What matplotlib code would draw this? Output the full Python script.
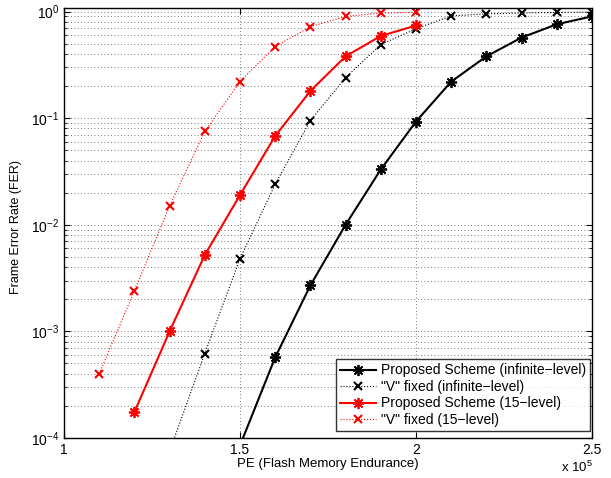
import numpy as np
import matplotlib
matplotlib.use('Agg')
import matplotlib.pyplot as plt
from matplotlib.ticker import LogLocator, NullFormatter

# PE values in units of 1e5
pe_inf = [1.5, 1.6, 1.7, 1.8, 1.9, 2.0, 2.1, 2.2, 2.3, 2.4, 2.5]
fer_prop_inf = [8.5e-5, 5.7e-4, 2.7e-3, 1.0e-2, 3.3e-2, 9.3e-2, 0.22, 0.38, 0.57, 0.76, 0.90]

pe_vinf = [1.3, 1.4, 1.5, 1.6, 1.7, 1.8, 1.9, 2.0, 2.1, 2.2, 2.3, 2.4, 2.5]
fer_v_inf = [7.5e-5, 6.2e-4, 4.8e-3, 2.4e-2, 9.5e-2, 0.24, 0.49, 0.69, 0.91, 0.95, 0.97, 0.98, 0.99]

pe_15 = [1.2, 1.3, 1.4, 1.5, 1.6, 1.7, 1.8, 1.9, 2.0]
fer_prop_15 = [1.75e-4, 1.0e-3, 5.2e-3, 1.9e-2, 6.8e-2, 0.18, 0.38, 0.59, 0.74]

pe_v15 = [1.1, 1.2, 1.3, 1.4, 1.5, 1.6, 1.7, 1.8, 1.9, 2.0]
fer_v_15 = [4.0e-4, 2.4e-3, 1.5e-2, 7.5e-2, 0.22, 0.47, 0.72, 0.90, 0.97, 0.98]

labels = ['Proposed Scheme (infinite\u2212level)', '"V" fixed (infinite\u2212level)',
          'Proposed Scheme (15\u2212level)', '"V" fixed (15\u2212level)']

plt.rcParams['font.family'] = ['Liberation Sans', 'DejaVu Sans']
plt.rcParams['mathtext.fontset'] = 'custom'
plt.rcParams['mathtext.rm'] = 'Liberation Sans'
plt.rcParams['mathtext.it'] = 'Liberation Sans'
plt.rcParams['font.size'] = 10

fig = plt.figure(figsize=(6.11, 4.78), dpi=100)
ax = fig.add_axes([0.1047, 0.0837, 0.8642, 0.8996])

ast = (8, 2, 0)
ax.plot(pe_inf, fer_prop_inf, color='k', lw=1.5, marker=ast, ms=8, mew=1.3, label=labels[0])
ax.plot(pe_vinf, fer_v_inf, color='k', lw=0.8, ls=':', marker='x', ms=6, mew=1.5, label=labels[1])
ax.plot(pe_15, fer_prop_15, color='r', lw=1.5, marker=ast, ms=8, mew=1.3, label=labels[2])
ax.plot(pe_v15, fer_v_15, color='r', lw=0.8, ls=':', marker='x', ms=6, mew=1.5, label=labels[3])

ax.set_yscale('log')
ax.set_xlim(1, 2.5)
ax.set_ylim(1e-4, 1.08)
ax.set_xticks([1, 1.5, 2, 2.5])
ax.set_xticklabels(['1', '1.5', '2', '2.5'])
ax.set_yticks([1e-4, 1e-3, 1e-2, 1e-1, 1])
ax.yaxis.set_minor_locator(LogLocator(base=10, subs=np.arange(2, 10)))
ax.yaxis.set_minor_formatter(NullFormatter())
ax.tick_params(which='both', direction='in', top=True, right=True, labelsize=10)
ax.tick_params(which='major', length=4)
ax.tick_params(which='minor', length=2)

gstyle = dict(ls=(0, (1, 3)), color='0.3', lw=0.6)
ax.grid(True, which='major', **gstyle)
ax.yaxis.grid(True, which='minor', **gstyle)
for s in ax.spines.values():
    s.set_linewidth(1.0)

ax.set_xlabel('PE (Flash Memory Endurance)', fontsize=9.5, labelpad=1)
ax.set_ylabel('Frame Error Rate (FER)', fontsize=9)
ax.yaxis.set_label_coords(-0.08, 0.49)
fig.text(0.918, 0.012, r'x 10$^5$', fontsize=9.5)

leg = ax.legend(loc='lower right', bbox_to_anchor=(0.996, 0.016), fontsize=10,
                frameon=True, fancybox=False, edgecolor='k', borderaxespad=0,
                handlelength=2.6, labelspacing=0.18, borderpad=0.3,
                handletextpad=0.3)
leg.get_frame().set_linewidth(1.0)

fig.savefig('out.png', dpi=100)
